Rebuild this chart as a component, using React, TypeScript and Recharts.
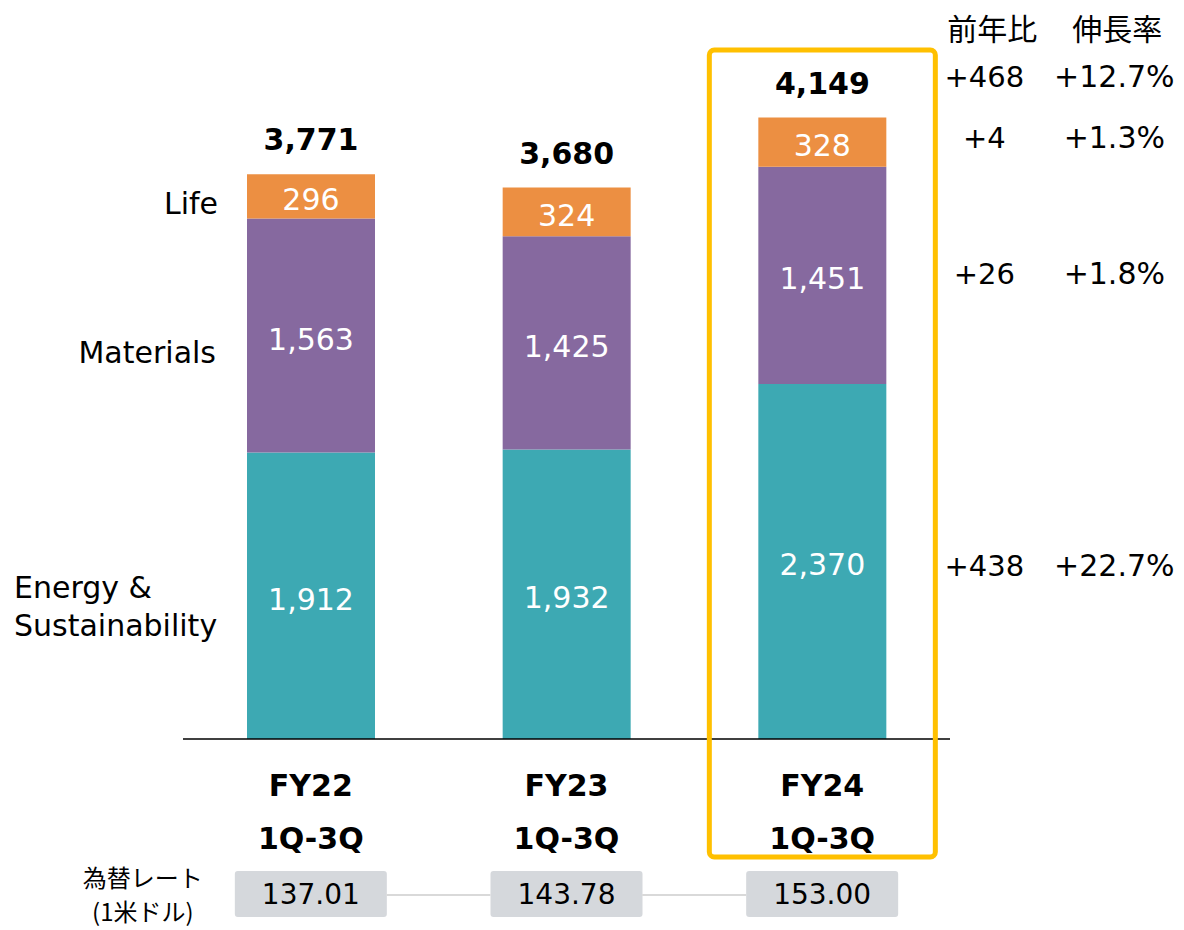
import React from 'react';
import { BarChart, Bar, XAxis, YAxis, LabelList } from 'recharts';

const categories = ['FY22', 'FY23', 'FY24'];
const energy = [1912, 1932, 2370];
const materials = [1563, 1425, 1451];
const life = [296, 324, 328];
const totals = [3771, 3680, 4149];
const rates = ['137.01', '143.78', '153.00'];

// FY24 vs FY23 (right side columns)
const diffEnergy = '+438';
const diffMaterials = '+26';
const diffLife = '+4';
const diffTotal = '+468';
const growthEnergy = '+22.7%';
const growthMaterials = '+1.8%';
const growthLife = '+1.3%';
const growthTotal = '+12.7%';

const colors = { energy: '#3DA9B3', materials: '#86699F', life: '#EC8F42' };
const latin = '"DejaVu Sans", Verdana, sans-serif';
const jp = '"Noto Sans CJK JP", sans-serif';

const data = categories.map((c, i) => ({
    name: c,
    energy: energy[i],
    materials: materials[i],
    life: life[i],
}));

const fmt = (v: number) => v.toLocaleString('en-US');

const RightCols = ({ x, y, a, b }: { x: number; y: number; a: string; b: string }) => (
    <g fontFamily={latin} fill="#000">
        <text x={x + 98} y={y + 10} textAnchor="middle" fontSize={29}>{a}</text>
        <text x={x + 228} y={y + 10} textAnchor="middle" fontSize={30}>{b}</text>
    </g>
);

const makeLabel = (series: 'energy' | 'materials' | 'life') => (props: any) => {
    const { x, y, width, height, value, index } = props;
    const cx = x + width / 2;
    const mid = y + height / 2;
    const right = x + width;
    return (
        <g>
            <text x={cx} y={mid + 14} textAnchor="middle" fill="#fff" fontFamily={latin} fontSize={30}>
                {fmt(value)}
            </text>
            {index === 0 && series === 'life' && (
                <text x={x - 29} y={mid + 18} textAnchor="end" fontFamily={latin} fontSize={30} fill="#000">Life</text>
            )}
            {index === 0 && series === 'materials' && (
                <text x={x - 31} y={mid + 27} textAnchor="end" fontFamily={latin} fontSize={30} fill="#000">Materials</text>
            )}
            {index === 0 && series === 'energy' && (
                <text x={x - 233} y={mid + 2} fontFamily={latin} fontSize={30} fill="#000">
                    <tspan x={x - 233} dy={0}>Energy &amp;</tspan>
                    <tspan x={x - 233} dy={38}>Sustainability</tspan>
                </text>
            )}
            {series === 'life' && (
                <text x={cx} y={y - 24} textAnchor="middle" fontFamily={latin} fontSize={30} fontWeight="bold" fill="#000">
                    {fmt(totals[index])}
                </text>
            )}
            {index === 2 && series === 'life' && (
                <g>
                    <RightCols x={right} y={mid - 4} a={diffLife} b={growthLife} />
                    <RightCols x={right} y={y - 41} a={diffTotal} b={growthTotal} />
                    <g fontFamily={jp} fontSize={30} fill="#000">
                        <text x={right + 106} y={y - 78} textAnchor="middle">前年比</text>
                        <text x={right + 231} y={y - 78} textAnchor="middle">伸長率</text>
                    </g>
                </g>
            )}
            {index === 2 && series === 'materials' && (
                <RightCols x={right} y={mid - 1} a={diffMaterials} b={growthMaterials} />
            )}
            {index === 2 && series === 'energy' && (
                <g>
                    <RightCols x={right} y={mid + 5} a={diffEnergy} b={growthEnergy} />
                    <rect
                        x={x - 49}
                        y={y + height - 689}
                        width={width + 98}
                        height={807}
                        rx={5}
                        fill="none"
                        stroke="#FFC000"
                        strokeWidth={5}
                    />
                </g>
            )}
        </g>
    );
};

const CategoryTick = (props: any) => {
    const { x, y, payload, index } = props;
    const base = y;
    return (
        <g>
            <text x={x} y={base + 57} textAnchor="middle" fontFamily={latin} fontSize={30} fontWeight="bold" fill="#000">
                {payload.value}
            </text>
            <text x={x} y={base + 110} textAnchor="middle" fontFamily={latin} fontSize={30} fontWeight="bold" fill="#000">
                1Q-3Q
            </text>
            {index > 0 && (
                <line x1={x - 180} x2={x - 76} y1={base + 156} y2={base + 156} stroke="#D9D9D9" strokeWidth={2} />
            )}
            <rect x={x - 76} y={base + 132} width={152} height={46} rx={3} fill="#D5D8DC" />
            <text x={x} y={base + 165} textAnchor="middle" fontFamily={latin} fontSize={28} fill="#000">
                {rates[index]}
            </text>
            {index === 0 && (
                <g fontFamily={jp} fontSize={24} fill="#000" textAnchor="middle">
                    <text x={x - 168} y={base + 148}>為替レート</text>
                    <text x={x - 168} y={base + 182}>(1米ドル)</text>
                </g>
            )}
        </g>
    );
};

export default function App() {
    return (
        <div style={{ position: 'absolute', left: 0, top: 0, width: 1184, height: 930, background: '#fff' }}>
            <BarChart
                width={1184}
                height={930}
                data={data}
                margin={{ top: 20, right: 234, left: 183, bottom: 161 }}
                barSize={128}
            >
                <XAxis
                    dataKey="name"
                    height={30}
                    axisLine={{ stroke: '#000', strokeWidth: 1.5 }}
                    tickLine={false}
                    tickSize={0}
                    tickMargin={0}
                    tick={<CategoryTick />}
                    interval={0}
                />
                <YAxis hide domain={[0, 4800]} />
                <Bar dataKey="energy" stackId="a" fill={colors.energy} isAnimationActive={false}>
                    <LabelList dataKey="energy" content={makeLabel('energy')} />
                </Bar>
                <Bar dataKey="materials" stackId="a" fill={colors.materials} isAnimationActive={false}>
                    <LabelList dataKey="materials" content={makeLabel('materials')} />
                </Bar>
                <Bar dataKey="life" stackId="a" fill={colors.life} isAnimationActive={false}>
                    <LabelList dataKey="life" content={makeLabel('life')} />
                </Bar>
            </BarChart>
        </div>
    );
}
